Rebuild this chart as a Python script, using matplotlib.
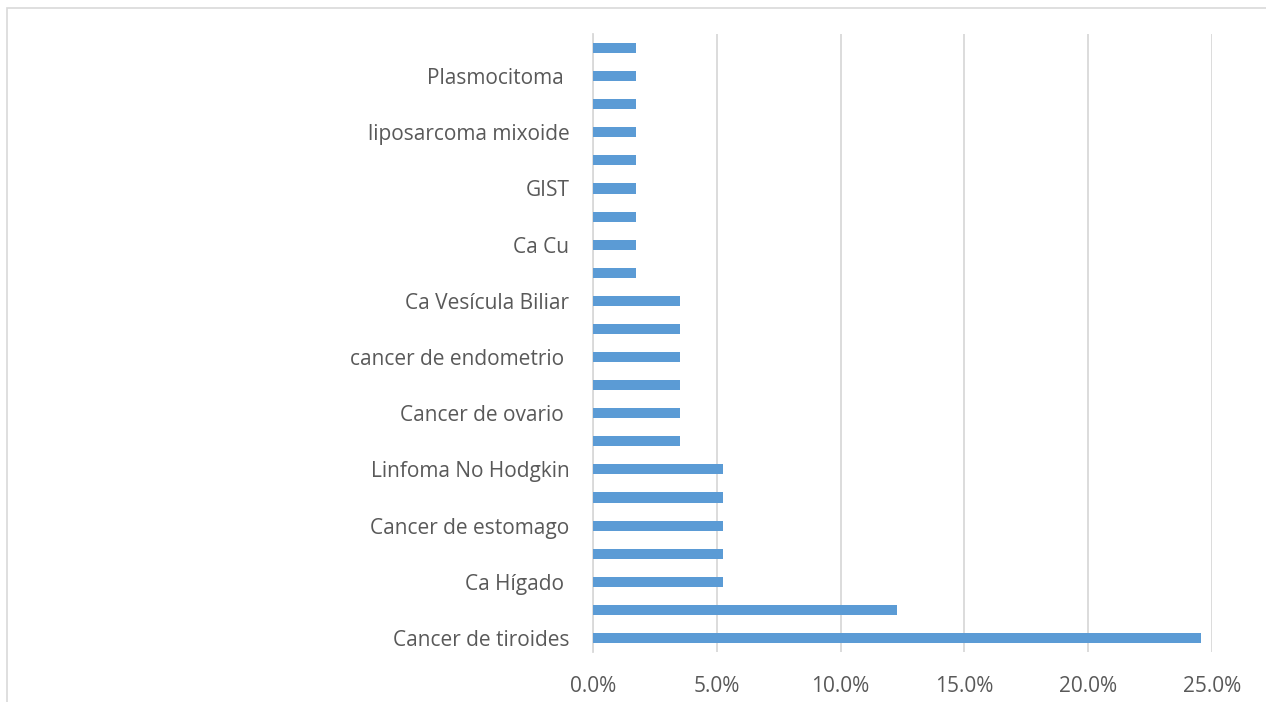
import numpy as np
import matplotlib
matplotlib.use("Agg")
import matplotlib.pyplot as plt
from matplotlib.patches import Rectangle
from matplotlib.ticker import FuncFormatter

# categories bottom -> top; every other one is left unlabeled on the axis
labels = ["Cancer de tiroides", "", "Ca Hígado ", "", "Cancer de estomago", "",
          "Linfoma No Hodgkin", "", "Cancer de ovario ", "", "cancer de endometrio ", "",
          "Ca Vesícula Biliar", "", "Ca Cu", "", "GIST", "", "liposarcoma mixoide", "",
          "Plasmocitoma ", ""]
pct = [24.56, 12.28, 5.26, 5.26, 5.26, 5.26, 5.26, 3.51, 3.51, 3.51, 3.51, 3.51, 3.51,
       1.75, 1.75, 1.75, 1.75, 1.75, 1.75, 1.75, 1.75, 1.75]
xticks = [0, 5, 10, 15, 20, 25]

BAR = "#5B9BD5"
GRID = "#D9D9D9"
TXT = "#595959"

plt.rcParams["font.family"] = ["Open Sans", "DejaVu Sans"]

W, H = 1266, 702
fig = plt.figure(figsize=(W / 100, H / 100), dpi=100)
ax = fig.add_axes([593 / W, 1 - 652 / H, (1212 - 593) / W, (652 - 34) / H])

y = np.arange(len(pct))
ax.barh(y, pct, height=0.36, color=BAR, zorder=3)

ax.set_xlim(0, 25)
ax.set_ylim(-0.5, len(pct) - 0.5)
ax.set_xticks(xticks)
ax.xaxis.set_major_formatter(FuncFormatter(lambda v, _: f"{v:.1f}%"))
ax.set_yticks(y)
ax.set_yticklabels(labels)
ax.tick_params(axis="both", length=0, labelsize=15, labelcolor=TXT)
ax.tick_params(axis="y", pad=17)
ax.tick_params(axis="x", pad=17)

ax.grid(axis="x", color=GRID, lw=1.3, zorder=0)
for s in ("top", "right", "bottom"):
    ax.spines[s].set_visible(False)
ax.spines["left"].set_color(GRID)
ax.spines["left"].set_linewidth(1.3)

# chart-area border
fig.add_artist(Rectangle((7 / W, -0.1), 1.1, (H - 8) / H + 0.1, transform=fig.transFigure,
                         fill=False, ec=GRID, lw=1.2))

fig.savefig("out.png", dpi=100)
